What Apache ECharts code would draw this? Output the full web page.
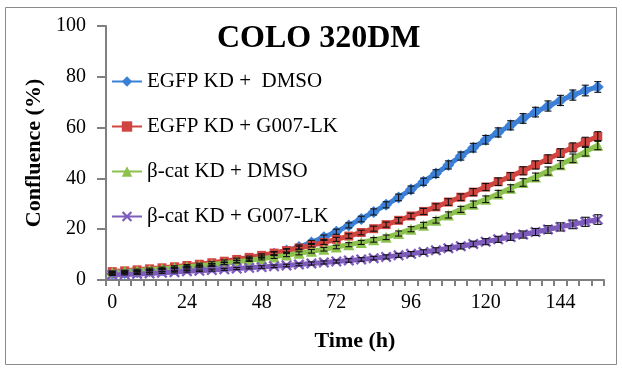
<!DOCTYPE html>
<html>
<head>
<meta charset="utf-8">
<script src="https://cdn.jsdelivr.net/npm/echarts@6/dist/echarts.min.js"></script>
<style>html,body{margin:0;padding:0;background:#fff}#c{width:622px;height:368px}</style>
</head>
<body>
<div id="c"></div>
<script>
const hours = [0,4,8,12,16,20,24,28,32,36,40,44,48,52,56,60,64,68,72,76,80,84,88,92,96,100,104,108,112,116,120,124,128,132,136,140,144,148,152,156];
const seriesNames = ['EGFP KD +  DMSO','EGFP KD + G007-LK','\u03b2-cat KD + DMSO','\u03b2-cat KD + G007-LK'];
const egfpDmso = [2.5,2.8,3.1,3.4,3.8,4.2,4.7,5.2,5.8,6.5,7.3,8.2,9.2,10.3,11.6,13.0,14.8,16.8,19.0,21.5,24.0,26.8,29.6,32.5,35.6,38.7,41.9,45.3,48.8,52.1,55.2,58.1,60.9,63.6,66.1,68.5,70.7,72.8,74.6,76.0];
const egfpG007 = [3.3,3.6,4.0,4.4,4.8,5.2,5.7,6.2,6.8,7.4,8.1,8.9,9.7,10.6,11.6,12.6,13.7,14.8,16.0,17.3,18.7,20.2,21.8,23.5,25.2,27.0,28.8,30.7,32.6,34.6,36.6,38.7,40.8,43.0,45.3,47.6,50.0,52.2,54.4,56.5];
const bcatDmso = [3.0,3.3,3.6,4.0,4.4,4.8,5.2,5.6,6.1,6.6,7.2,7.8,8.4,9.1,9.8,10.5,11.3,12.1,13.0,13.9,14.8,15.8,16.8,18.3,20.0,21.6,23.5,25.6,27.8,29.8,31.8,33.9,36.1,38.4,40.6,42.9,45.4,47.9,50.5,53.1];
const bcatG007 = [2.0,2.2,2.4,2.6,2.9,3.1,3.4,3.6,3.9,4.2,4.5,4.8,5.1,5.4,5.7,6.1,6.5,6.9,7.3,7.7,8.1,8.6,9.1,9.7,10.3,11.0,11.7,12.5,13.3,14.2,15.1,16.0,16.9,17.9,18.9,19.9,20.9,21.9,22.9,23.8];
const egfpDmsoErr = [0.3,0.3,0.3,0.3,0.4,0.4,0.4,0.4,0.5,0.5,0.5,0.6,0.6,0.7,0.7,0.8,0.8,0.9,1.0,1.0,1.1,1.2,1.2,1.3,1.4,1.4,1.5,1.6,1.6,1.7,1.7,1.8,1.8,1.9,1.9,2.0,2.0,2.0,2.1,2.1];
const egfpG007Err = [0.3,0.3,0.3,0.3,0.3,0.4,0.4,0.4,0.4,0.5,0.5,0.5,0.6,0.6,0.6,0.7,0.7,0.8,0.8,0.9,0.9,1.0,1.0,1.1,1.1,1.2,1.2,1.3,1.3,1.4,1.4,1.5,1.5,1.6,1.6,1.7,1.7,1.8,1.8,1.9];
const bcatDmsoErr = [0.3,0.3,0.3,0.3,0.3,0.3,0.4,0.4,0.4,0.4,0.5,0.5,0.5,0.6,0.6,0.6,0.7,0.7,0.7,0.8,0.8,0.9,0.9,1.0,1.0,1.1,1.1,1.2,1.2,1.3,1.3,1.4,1.4,1.5,1.5,1.6,1.6,1.7,1.7,1.8];
const bcatG007Err = [0.2,0.2,0.2,0.3,0.3,0.3,0.3,0.3,0.4,0.4,0.4,0.4,0.5,0.5,0.5,0.5,0.6,0.6,0.6,0.7,0.7,0.7,0.8,0.8,0.9,0.9,1.0,1.0,1.1,1.1,1.2,1.2,1.3,1.4,1.4,1.5,1.6,1.7,1.8,1.9];
const yTicks = [0,20,40,60,80,100];

const colors = ['#3B80D6','#D04540','#8DC14E','#7D5CBB'];
const symbols = ['diamond','rect','triangle','path://M0,1.5 L1.5,0 L5,3.5 L8.5,0 L10,1.5 L6.5,5 L10,8.5 L8.5,10 L5,6.5 L1.5,10 L0,8.5 L3.5,5 Z'];
const symbolSizes = [12,9,11,11];
const values = [egfpDmso, egfpG007, bcatDmso, bcatG007];
const errs = [egfpDmsoErr, egfpG007Err, bcatDmsoErr, bcatG007Err];
const FONT = 'Liberation Serif';

const chart = echarts.init(document.getElementById('c'), null, {renderer:'canvas'});
const series = [];
values.forEach((vals, k) => {
  series.push({
    name: seriesNames[k], type: 'line', data: vals,
    symbol: symbols[k], symbolSize: symbolSizes[k], showSymbol: true, showAllSymbol: true,
    lineStyle: {width: 5, color: colors[k]},
    itemStyle: {color: colors[k]},
    z: 2 + k * 0.1, animation: false
  });
});
values.forEach((vals, k) => {
  series.push({
    name: 'err' + k, type: 'custom', z: 5, animation: false, silent: true,
    data: vals.map((v, i) => [i, v, errs[k][i]]),
    renderItem: function (params, api) {
      const i = api.value(0), v = api.value(1), e = api.value(2);
      const t = api.coord([i, v + e]);
      const b = api.coord([i, v - e]);
      const hw = 3.5;
      const st = {stroke: '#111', lineWidth: 1.1};
      return {type: 'group', children: [
        {type: 'line', shape: {x1: t[0], y1: t[1], x2: b[0], y2: b[1]}, style: st},
        {type: 'line', shape: {x1: t[0] - hw, y1: t[1], x2: t[0] + hw, y2: t[1]}, style: st},
        {type: 'line', shape: {x1: b[0] - hw, y1: b[1], x2: b[0] + hw, y2: b[1]}, style: st}
      ]};
    }
  });
});

chart.setOption({
  animation: false,
  backgroundColor: '#ffffff',
  title: {
    text: 'COLO 320DM', left: 212, top: 18,
    textStyle: {fontFamily: FONT, fontWeight: 'bold', fontSize: 32, color: '#000'}
  },
  legend: {
    data: seriesNames, orient: 'vertical', left: 106, top: 66,
    itemWidth: 30, itemHeight: 13, itemGap: 24,
    textStyle: {fontFamily: FONT, fontSize: 21, color: '#000', lineHeight: 20},
    selectedMode: false
  },
  grid: {left: 106, right: 18, top: 26, bottom: 88, containLabel: false},
  xAxis: {
    type: 'category', data: hours, boundaryGap: true,
    name: 'Time (h)', nameLocation: 'middle', nameGap: 50,
    nameTextStyle: {fontFamily: FONT, fontWeight: 'bold', fontSize: 22, color: '#000'},
    axisLine: {lineStyle: {color: '#808080', width: 2}},
    axisTick: {show: true, interval: 0, length: 6, lineStyle: {color: '#808080', width: 2}},
    axisLabel: {interval: 5, margin: 13, fontFamily: FONT, fontSize: 20, color: '#000'},
    splitLine: {show: false}
  },
  yAxis: {
    type: 'value', min: yTicks[0], max: yTicks[yTicks.length - 1], interval: 20,
    name: 'Confluence (%)', nameLocation: 'middle', nameGap: 47, nameRotate: 90,
    nameTextStyle: {fontFamily: FONT, fontWeight: 'bold', fontSize: 22, color: '#000'},
    axisLine: {show: true, lineStyle: {color: '#808080', width: 2}},
    axisTick: {show: true, length: 9, lineStyle: {color: '#808080', width: 2}},
    axisLabel: {margin: 20, fontFamily: FONT, fontSize: 20, color: '#000'},
    splitLine: {show: false}
  },
  graphic: [{
    type: 'rect', shape: {x: 5.5, y: 7.5, width: 611, height: 357},
    style: {fill: 'none', stroke: '#8a8a8a', lineWidth: 1}, z: -1, silent: true
  }],
  series: series
});
</script>
</body>
</html>
